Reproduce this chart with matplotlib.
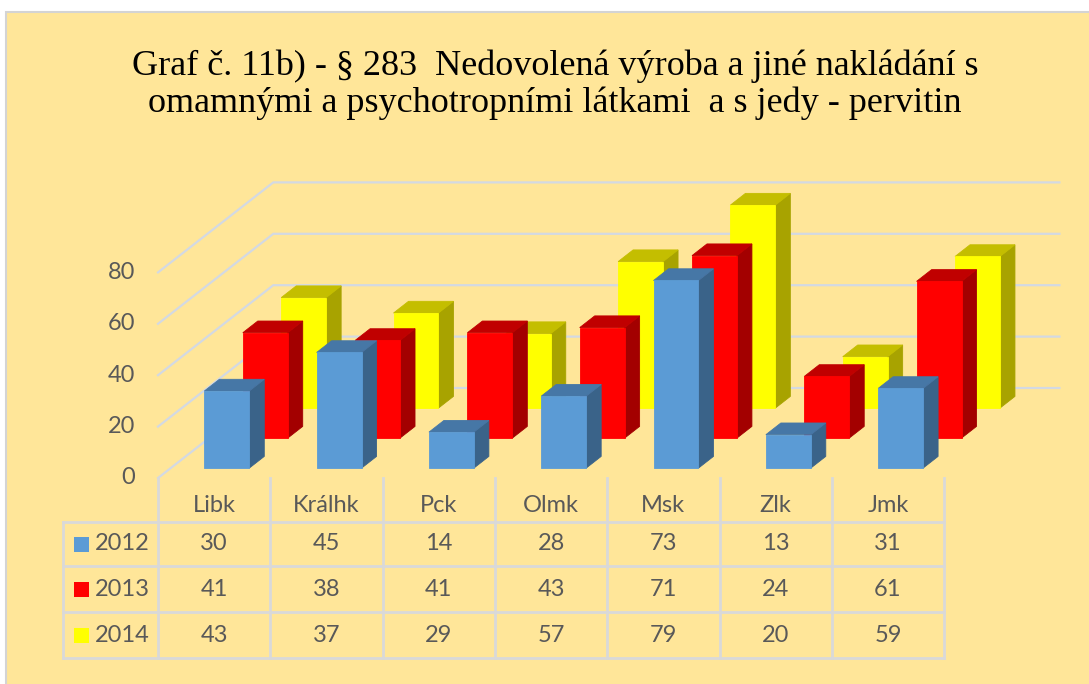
import matplotlib.pyplot as plt
from matplotlib.patches import Polygon, Rectangle

categories = ["Libk", "Králhk", "Pck", "Olmk", "Msk", "Zlk", "Jmk"]
years = ["2012", "2013", "2014"]
values_2012 = [30, 45, 14, 28, 73, 13, 31]
values_2013 = [41, 38, 41, 43, 71, 24, 61]
values_2014 = [43, 37, 29, 57, 79, 20, 59]
y_ticks = [0, 20, 40, 60, 80]

title = ("Graf č. 11b) - § 283  Nedovolená výroba a jiné nakládání s\n"
         "omamnými a psychotropními látkami  a s jedy - pervitin")

series = [values_2012, values_2013, values_2014]
# (front, top, side) for each series
colours = [("#5B9BD5", "#4677A6", "#3A6389"),
           ("#FF0000", "#C00000", "#A30000"),
           ("#FFFF00", "#C4BE00", "#A8A300")]

bg = "#FFE699"
grid_col = "#D3D9E3"
table_col = "#D9D9D9"
text_col = "#595959"

# layout (pixels of the 1089x684 picture)
W, H = 1089, 684
ORIGIN_X, ORIGIN_Y = 158, 478   # front-left corner of the floor
CAT_PX = 112.3                  # width of one category
VAL_PX = 2.57                   # pixels per unit of value
DEPTH_X, DEPTH_Y = 115.3, 90.0  # oblique shift from front to back wall

fig = plt.figure(figsize=(W / 100, H / 100), dpi=100)
fig.patch.set_facecolor("white")
ax = fig.add_axes([0, 0, 1, 1])
ax.set_xlim(-ORIGIN_X / CAT_PX, (W - ORIGIN_X) / CAT_PX)
ax.set_ylim(-(H - ORIGIN_Y) / VAL_PX, ORIGIN_Y / VAL_PX)
ax.axis("off")

DX = DEPTH_X / CAT_PX
DY = DEPTH_Y / VAL_PX


def py(px):
    # pixel row (from top) -> data y
    return (ORIGIN_Y - px) / VAL_PX


def px_x(px):
    return (px - ORIGIN_X) / CAT_PX


def proj(x, v, d):
    return (x + d * DX, v + d * DY)


# chart area background with border
ax.add_patch(Rectangle((px_x(6), py(H + 20)), px_x(W + 40) - px_x(6), py(12) - py(H + 20),
                       facecolor=bg, edgecolor="#D4D4D4", linewidth=1.5, zorder=0))

n = len(categories)

# walls: gridlines on left wall and back wall
for v in y_ticks:
    x0, y0 = proj(0, v, 0)
    x1, y1 = proj(0, v, 1)
    x2, y2 = proj(n, v, 1)
    ax.plot([x0, x1, x2], [y0, y1, y2], color=grid_col, lw=1.6, zorder=1,
            solid_joinstyle="miter")
    ax.text(px_x(135), v, str(v), ha="right", va="center", fontsize=17,
            color=text_col, family="Lato")

# bars, back row first
bar_w = 0.40
gap = 0.11
bar_d = 0.13
for i in reversed(range(len(series))):
    front, top, side = colours[i]
    d0 = i / 3 + gap
    d1 = d0 + bar_d
    for j, v in enumerate(series[i]):
        x0 = j + 0.5 - bar_w / 2
        x1 = x0 + bar_w
        faces = [
            ([proj(x1, 0, d0), proj(x1, 0, d1), proj(x1, v, d1), proj(x1, v, d0)], side),
            ([proj(x0, v, d0), proj(x1, v, d0), proj(x1, v, d1), proj(x0, v, d1)], top),
            ([proj(x0, 0, d0), proj(x1, 0, d0), proj(x1, v, d0), proj(x0, v, d0)], front),
        ]
        for pts, c in faces:
            ax.add_patch(Polygon(pts, closed=True, facecolor=c, edgecolor=c,
                                 linewidth=0.6, zorder=2))

# data table
row_lines = [522, 566, 612, 658]
left_px = 63
tx = dict(color=table_col, lw=2, zorder=1, solid_capstyle="projecting")
for k in range(n + 1):
    ax.plot([k, k], [0, py(row_lines[-1])], **tx)
ax.plot([px_x(left_px)] * 2, [py(row_lines[0]), py(row_lines[-1])], **tx)
for r in row_lines:
    ax.plot([px_x(left_px), n], [py(r), py(r)], **tx)

for j, cat in enumerate(categories):
    ax.text(j + 0.5, py(506), cat, ha="center", va="center", fontsize=17,
            color=text_col, family="Lato")

for i, yr in enumerate(years):
    yc = py((row_lines[i] + row_lines[i + 1]) / 2)
    ax.add_patch(Rectangle((px_x(74), yc - 7.5 / VAL_PX), 15 / CAT_PX, 15 / VAL_PX,
                           facecolor=colours[i][0], edgecolor="none", zorder=3))
    ax.text(px_x(95), yc, yr, ha="left", va="center", fontsize=17,
            color=text_col, family="Lato")
    for j, v in enumerate(series[i]):
        ax.text(j + 0.5, yc, str(v), ha="center", va="center", fontsize=17,
                color=text_col, family="Lato")

fig.text(555 / W, 1 - 85 / H, title, ha="center", va="center", fontsize=26,
         family="Liberation Serif", color="black", linespacing=1.15)

fig.savefig("out.png", dpi=100, facecolor=fig.get_facecolor())
